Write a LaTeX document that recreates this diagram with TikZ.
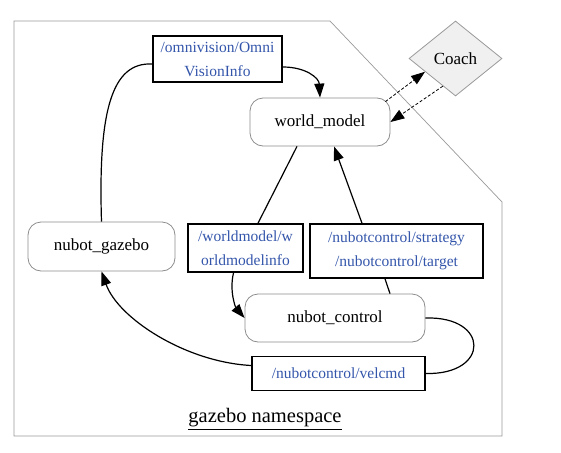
\documentclass[tikz,border=0pt]{standalone}
\usepackage{fontspec}
\setmainfont{Liberation Serif}
\usetikzlibrary{arrows.meta,shapes.geometric,calc}
\definecolor{topicblue}{HTML}{3355AA}

\begin{document}
\begin{tikzpicture}[x=1pt,y=-1pt,>={Triangle[length=14pt,width=10pt]},
	rosnode/.style={draw=gray!90,line width=0.8pt,rounded corners=13pt,inner sep=0pt,font=\fontsize{17}{20}\selectfont},
	topic/.style={draw,line width=1.6pt,inner sep=0pt,align=center,text=topicblue,font=\fontsize{15.5}{24}\selectfont},
	link/.style={line width=1.2pt}]

\useasboundingbox (0,0) rectangle (561,452);
\draw[gray!80,line width=0.7pt] (14,21) -- (330,21) -- (502,202) -- (502,436) -- (14,436) -- cycle;

\node[rosnode,minimum width=140pt,minimum height=48pt]   (world)   at (320,122)     {world\_model};
	\node[rosnode,minimum width=147pt,minimum height=49pt]   (gazebo)  at (101.5,246.5) {nubot\_gazebo};
	\node[rosnode,minimum width=180pt,minimum height=48pt]   (ctrl)    at (335,318)     {nubot\_control};
	\node[diamond,draw=gray!80,line width=0.8pt,fill=gray!12,minimum width=93pt,minimum height=75pt,inner sep=0pt,
		font=\fontsize{17}{20}\selectfont] (coach) at (455.5,58.5) {Coach};

	\node[topic,minimum width=129pt,minimum height=46pt] (omni)   at (217.5,59)  {/omnivision/Omni\\VisionInfo};
	\node[topic,minimum width=115pt,minimum height=48pt] (wminfo) at (245.5,248) {/worldmodel/w\\orldmodelinfo};
	\node[topic,minimum width=173pt,minimum height=54pt] (strat)  at (396.5,251) {/nubotcontrol/strategy\\/nubotcontrol/target};
	\node[topic,minimum width=173pt,minimum height=34pt] (velcmd) at (338.5,373.5) {/nubotcontrol/velcmd};

	\node[font=\fontsize{20.5}{24}\selectfont] (ns) at (265,419) {\underline{gazebo namespace}};

	\draw[link]    (gazebo.north) .. controls (98,110) and (112,62) .. ([yshift=-5pt]omni.west);
	\draw[link,->] ([yshift=-8pt]omni.east) .. controls (306,67) and (319,78) .. (world.north);
	\draw[link]    ([xshift=-23pt]world.south) -- ([xshift=12.5pt]wminfo.north);
	\draw[link,->] ([xshift=-12pt]wminfo.south) .. controls (229,292) and (236,308) .. (ctrl.west);
	\draw[link]    ([xshift=-11.5pt]strat.south) -- ([xshift=55pt]ctrl.north);
	\draw[link,->] ([xshift=-34.5pt]strat.north) -- ([xshift=14pt]world.south);
	\draw[link]    (ctrl.east) .. controls (490,316) and (490,375) .. (velcmd.east);
	\draw[link,->] ([yshift=8pt]velcmd.west) .. controls (185,362) and (118,318) .. (gazebo.south);

	\draw[densely dashed,line width=0.8pt,->] ([xshift=-5pt,yshift=-4pt]world.north east) -- ($(coach.west)!0.35!(coach.south)$);
	\draw[densely dashed,line width=0.8pt,->] ($(coach.west)!0.73!(coach.south)$) -- (world.east);
\end{tikzpicture}
\end{document}
